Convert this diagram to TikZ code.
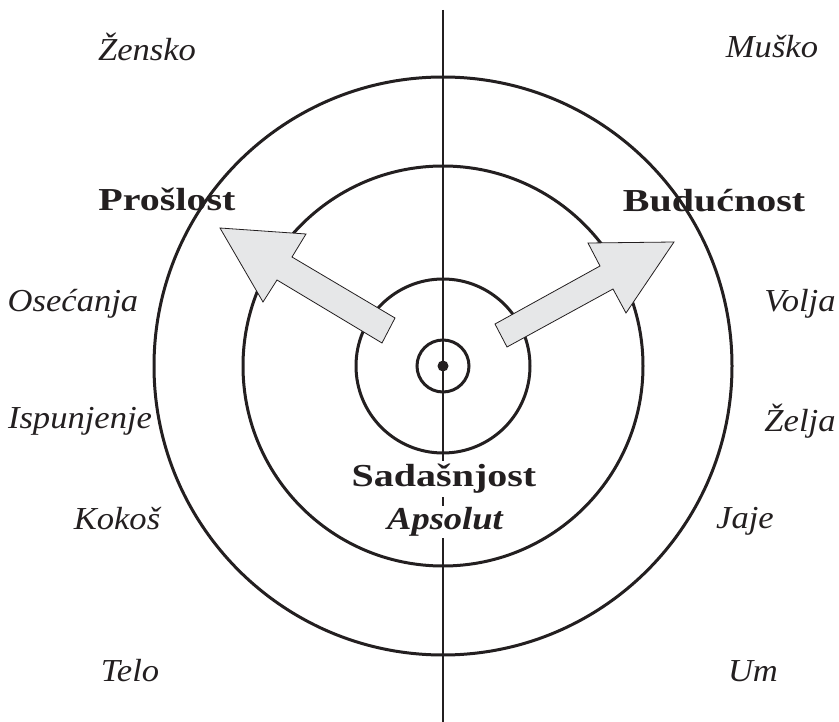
\documentclass[tikz,border=0pt]{standalone}
\usepackage{fontspec}
\setmainfont{Liberation Serif}
\newfontfamily\itf[FakeStretch=1.08]{Liberation Serif}
\newfontfamily\bff[FakeStretch=1.25]{Liberation Serif}
\newfontfamily\bif[FakeStretch=1.14]{Liberation Serif}
\definecolor{arrowgray}{HTML}{E6E7E8}
\definecolor{ink}{HTML}{231F20}
\tikzset{
  ring/.style={draw=ink, line width=3pt},
  axisline/.style={draw=ink, line width=2.6pt},
  bigarrow/.style={draw=ink, fill=arrowgray, line width=0.8pt, line join=miter},
  itlabel/.style={font=\itf\itshape\fontsize{32}{36}\selectfont, text=ink, inner sep=0pt},
  bflabel/.style={font=\bff\bfseries\fontsize{32}{36}\selectfont, text=ink, inner sep=0pt},
  bilabel/.style={font=\bif\bfseries\itshape\fontsize{32}{36}\selectfont, text=ink, inner sep=0pt},
}
\begin{document}
\begin{tikzpicture}[x=1pt, y=-1pt]
\useasboundingbox (0,0) rectangle (839,722);
% centre and axis
\coordinate (c) at (443,366);
\coordinate (axtop) at (443,10);
\coordinate (axbot) at (443,722);
% rings
\draw[ring] (c) circle[radius=289];
\draw[ring] (c) circle[radius=200];
\draw[ring] (c) circle[radius=87];
\draw[ring] (c) circle[radius=26];
\draw[axisline] (axtop) -- (axbot);
\fill[ink] (c) circle[radius=5.5];
% labels
\node[itlabel] (zensko) at (147,47) {Žensko};
\node[itlabel] (musko) at (772,47) {Muško};
\node[bflabel] (proslost) at (167,199) {Prošlost};
\node[bflabel] (buducnost) at (714,201) {Budućnost};
\node[itlabel] (osecanja) at (73,304) {Osećanja};
\node[itlabel] (volja) at (800,304) {Volja};
\node[itlabel] (ispunjenje) at (80,421) {Ispunjenje};
\node[itlabel] (zelja) at (800,421) {Želja};
\node[itlabel] (kokos) at (117,519) {Kokoš};
\node[itlabel] (jaje) at (745,521) {Jaje};
\node[itlabel] (telo) at (130,671) {Telo};
\node[itlabel] (um) at (753,671) {Um};
\node[bflabel, fill=white, inner sep=3pt] (sadasnjost) at (444,479) {Sadašnjost};
\node[bilabel, fill=white, inner sep=1.5pt] (apsolut) at (445,522) {Apsolut};
% arrows
\draw[bigarrow] (220,228) -- (306,234) -- (292,257) -- (395,318) -- (382,343) -- (277,280) -- (263,302) -- cycle;
\draw[bigarrow] (674,242) -- (626,313) -- (613,289) -- (507,347) -- (495,324) -- (600,266) -- (588,243) -- cycle;
\end{tikzpicture}
\end{document}
